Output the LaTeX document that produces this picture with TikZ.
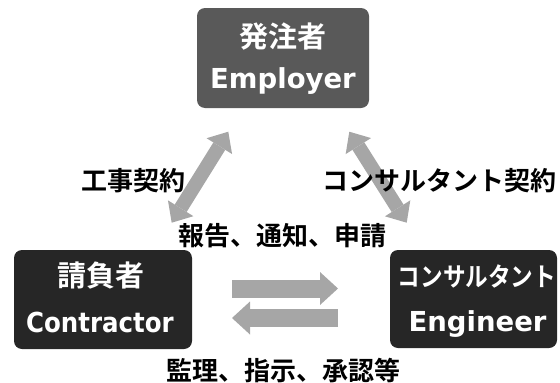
\documentclass[tikz,border=0pt]{standalone}
\usepackage{fontspec}
\usetikzlibrary{arrows.meta}
\newfontfamily\jp{Noto Sans CJK JP}[BoldFont=* Bold]
\newfontfamily\jpcond{Noto Sans CJK JP}[BoldFont=* Bold, FakeStretch=0.87]
\newfontfamily\dv{DejaVu Sans}
\newfontfamily\dvcond{DejaVu Sans}[FakeStretch=0.89]
\definecolor{empfill}{HTML}{595959}
\definecolor{boxfill}{HTML}{262626}
\definecolor{arrowgray}{HTML}{A6A6A6}
\tikzset{
  party/.style={draw=none, rounded corners=8pt, inner sep=0pt},
  intxt/.style={text=white, anchor=base, inner sep=0pt},
  lbl/.style={text=black, anchor=base, inner sep=0pt, font=\jp\bfseries\fontsize{26}{30}\selectfont},
  dbl/.style={draw=arrowgray, line width=14pt,
    {Triangle[width=30pt,length=17pt,line width=0pt]}-{Triangle[width=30pt,length=17pt,line width=0pt]}},
  flow/.style={draw=arrowgray, line width=18pt, -{Triangle[width=33pt,length=18pt,line width=0pt]}},
}
\begin{document}
\begin{tikzpicture}[x=1pt,y=-1pt]
\useasboundingbox (0,0) rectangle (560,383);
% boxes
\node[party, fill=empfill, minimum width=172pt, minimum height=100pt] (emp) at (283,58) {};
\node[party, fill=boxfill, minimum width=178pt, minimum height=99pt] (con) at (103,299.5) {};
\node[party, fill=boxfill, minimum width=167pt, minimum height=98pt] (eng) at (473.5,299) {};
% box texts
\node[intxt, font=\jp\bfseries\fontsize{29}{32}\selectfont] (empJ) at (283,47) {発注者};
\node[intxt, font=\dv\bfseries\fontsize{27.5}{32}\selectfont] (empE) at (283,88) {Employer};
\node[intxt, font=\jp\bfseries\fontsize{29}{32}\selectfont] (conJ) at (101,286) {請負者};
\node[intxt, font=\dvcond\bfseries\fontsize{27.5}{32}\selectfont] (conE) at (100,332) {Contractor};
\node[intxt, font=\jpcond\bfseries\fontsize{26}{30}\selectfont] (engJ) at (477,286) {コンサルタント};
\node[intxt, font=\dv\bfseries\fontsize{27.5}{32}\selectfont] (engE) at (477.5,331) {Engineer};
% connectors
\coordinate (l1) at (171.7,222.7);
\coordinate (l2) at (228.3,131.7);
\coordinate (r1) at (349.3,131.7);
\coordinate (r2) at (406.7,222.7);
\coordinate (h1) at (232,288.5);
\coordinate (h2) at (338,288.5);
\coordinate (h3) at (338,318);
\coordinate (h4) at (232,318);
\draw[dbl] (l1) -- (l2);
\draw[dbl] (r1) -- (r2);
\draw[flow] (h1) -- (h2);
\draw[flow] (h3) -- (h4);
% labels
\node[lbl] (lk) at (133,190) {工事契約};
\node[lbl] (rk) at (439,190) {コンサルタント契約};
\node[lbl] (mid) at (282.5,245) {報告、通知、申請};
\node[lbl] (bot) at (283,380) {監理、指示、承認等};
\end{tikzpicture}
\end{document}
